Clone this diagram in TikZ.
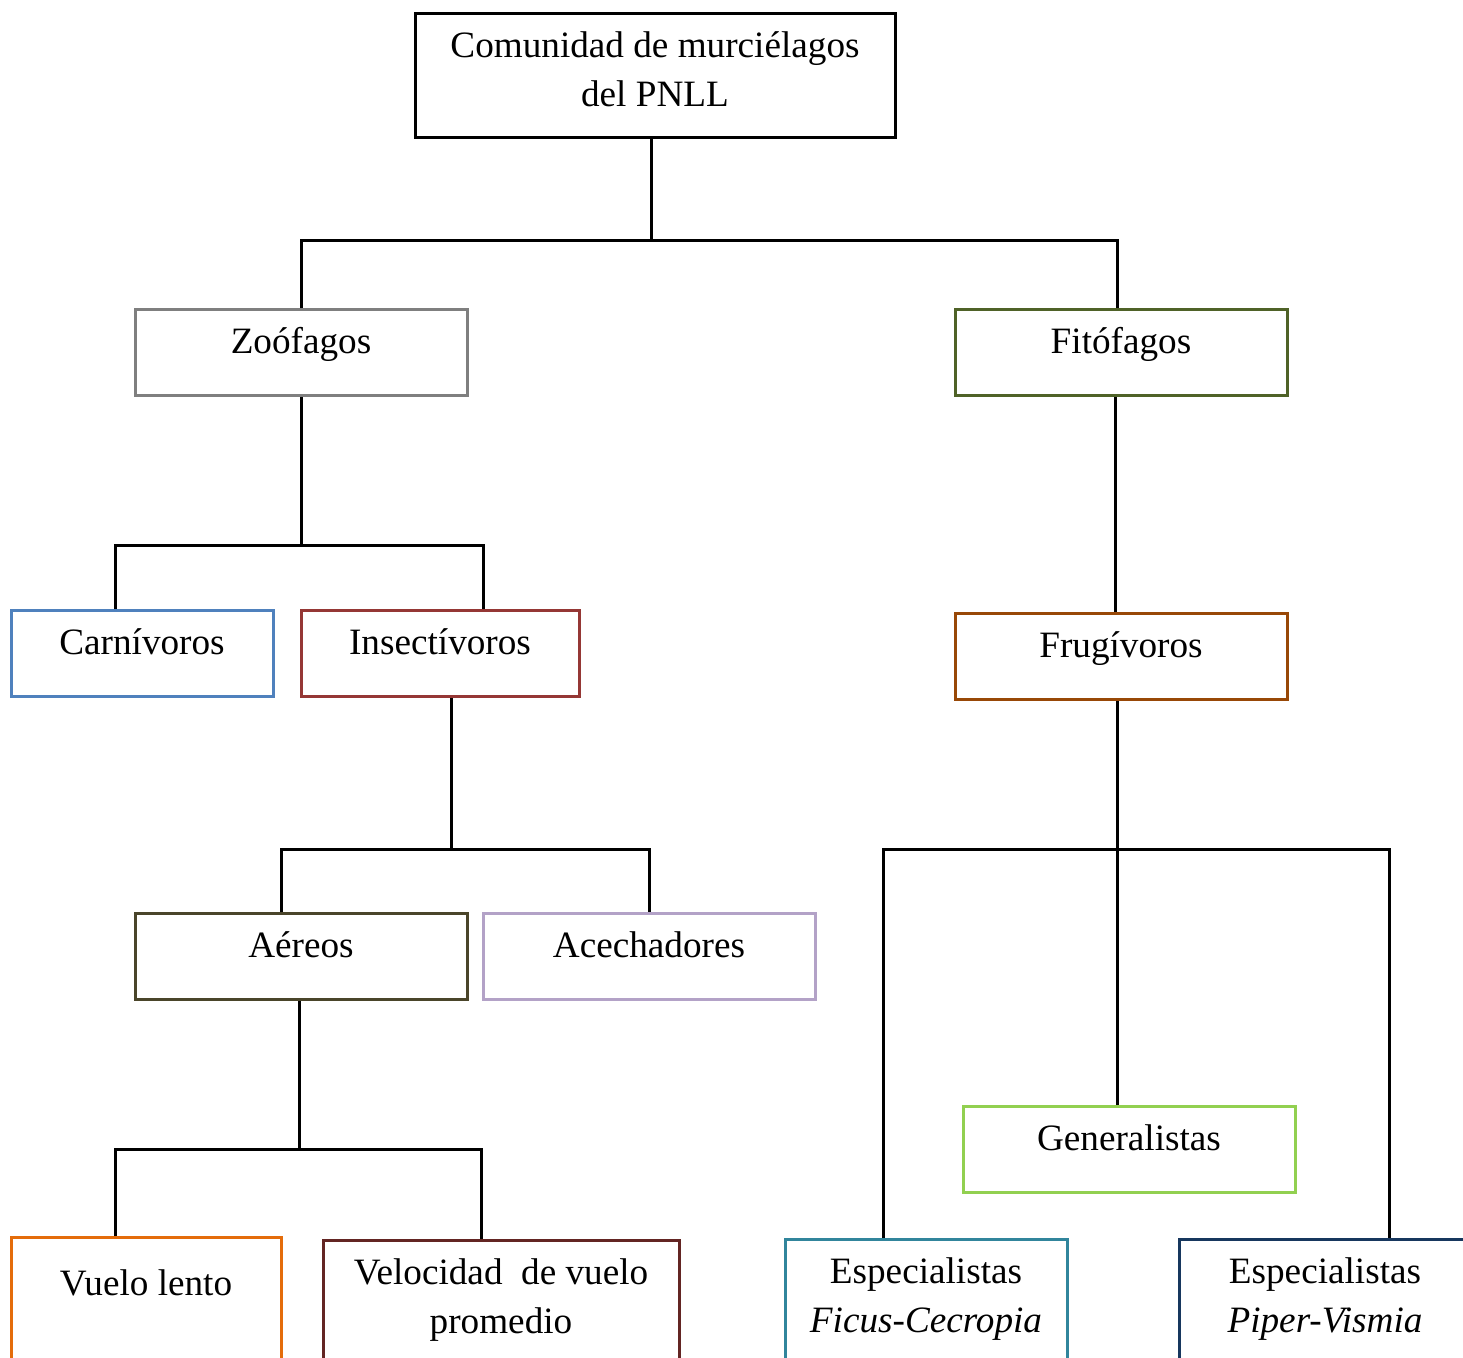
\documentclass[tikz,border=0pt]{standalone}
\usepackage{fontspec}
\setmainfont{Liberation Serif}
\usetikzlibrary{positioning}

\definecolor{gris}{HTML}{7F7F7F}
\definecolor{oliva}{HTML}{4F6228}
\definecolor{azul}{HTML}{4F81BD}
\definecolor{rojo}{HTML}{953735}
\definecolor{pardo}{HTML}{4A452A}
\definecolor{lila}{HTML}{B3A2C7}
\definecolor{cobre}{HTML}{984807}
\definecolor{verdecl}{HTML}{92D050}
\definecolor{naranja}{HTML}{E46C0A}
\definecolor{granate}{HTML}{632523}
\definecolor{turquesa}{HTML}{31859C}
\definecolor{marino}{HTML}{17375E}

\newcommand{\doslineas}[2]{\begin{tabular}[t]{@{}c@{}}#1\\#2\end{tabular}}

\tikzset{
  caja/.style={draw=#1, line width=1.5pt, rectangle, inner sep=0pt, anchor=north,
    text height=22pt, text depth=21pt, font=\fontsize{18.6}{24.5}\selectfont},
  enlace/.style={line width=1.5pt, black}
}

\begin{document}
\begin{tikzpicture}[x=0.5pt, y=-0.5pt]
          \useasboundingbox (0,0) rectangle (1463,1357);
          \clip (0,0) rectangle (1463,1357);

          \begin{scope}
            \node (raiz) [caja=black, minimum width=240pt, text depth=40pt] at (655,12) {\doslineas{Comunidad de murciélagos}{del PNLL}};
            \node (zoo) [caja=gris, minimum width=166pt] at (301,308) {Zoófagos};
            \node (fito) [caja=oliva, minimum width=166pt] at (1121,308) {Fitófagos};
            \node (carn) [caja=azul, minimum width=131pt] at (142,609) {Carnívoros};
            \node (insect) [caja=rojo, minimum width=139pt] at (440,609) {Insectívoros};
            \node (frug) [caja=cobre, minimum width=166pt] at (1121,612) {Frugívoros};
            \node (aereo) [caja=pardo, minimum width=166pt] at (301,912) {Aéreos};
            \node (acech) [caja=lila, minimum width=166pt] at (649,912) {Acechadores};
            \node (gener) [caja=verdecl, minimum width=166pt] at (1129,1105) {Generalistas};
            \node (lento) [caja=naranja, minimum width=135pt, text height=29pt, text depth=41pt] at (146,1236) {Vuelo lento};
            \node (veloc) [caja=granate, minimum width=178pt, text depth=60pt] at (501,1239) {\doslineas{Velocidad\ \ de vuelo}{promedio}};
            \node (ficus) [caja=turquesa, minimum width=141pt, text depth=60pt] at (926,1238) {\doslineas{Especialistas}{\itshape Ficus-Cecropia}};
            \node (piper) [caja=marino, minimum width=146pt, text depth=60pt] at (1325,1238) {\doslineas{Especialistas}{\itshape Piper-Vismia}};
          \end{scope}

          \coordinate (bRaiz) at (651,240);
          \coordinate (bZoo) at (301,545);
          \coordinate (bInsect) at (451,849);
          \coordinate (bAereo) at (299,1149);
          \coordinate (bFrug) at (1117,849);

          \begin{scope}[enlace]
            \draw ([xshift=-2pt]raiz.south) |- (bRaiz);
            \draw (zoo.north) |- (bRaiz) -| ([xshift=-2pt]fito.north);
            \draw ([xshift=-3pt]fito.south) -- ([xshift=-3pt]frug.north);

            \draw (zoo.south) -- (bZoo);
            \draw ([xshift=-13.5pt]carn.north) |- (bZoo) -| ([xshift=21.5pt]insect.north);

            \draw ([xshift=5.5pt]insect.south) -- (bInsect);
            \draw ([xshift=-10pt]aereo.north) |- (bInsect) -| (acech.north);

            \draw ([xshift=-1pt]aereo.south) -- (bAereo);
            \draw ([xshift=-15.5pt]lento.north) |- (bAereo) -| ([xshift=-10pt]veloc.north);

            \draw ([xshift=-2pt]frug.south) -- (bFrug);
            \draw ([xshift=-21.5pt]ficus.north) |- (bFrug) -| ([xshift=32pt]piper.north);
            \draw ([xshift=-6pt]gener.north) |- (bFrug);
          \end{scope}
        \end{tikzpicture}
\end{document}
